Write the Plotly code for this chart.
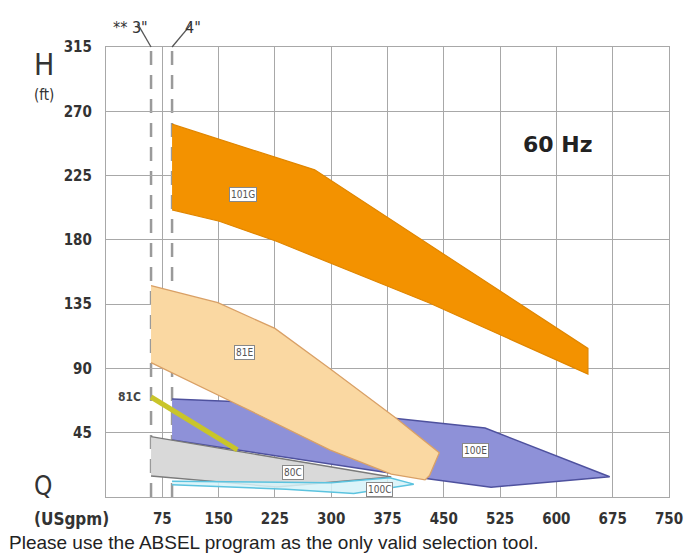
import plotly.graph_objects as go

# ---- data (Q in USgpm, H in ft) ----
q_101G = [88, 278, 642, 642, 430, 227, 151, 88]
h_101G = [261, 229, 104, 86, 136, 179, 193, 201]

q_81E = [60, 149, 225, 298, 387, 444, 431, 425, 380, 298, 182, 60]
h_81E = [148, 136, 118, 90, 55, 31, 15, 12, 16, 33, 63, 94]

q_100E = [88, 178, 505, 671, 513, 431, 88]
h_100E = [68.6, 66.7, 48.3, 14.2, 6.8, 12.6, 39.9]

q_80C = [60, 380, 227, 60]
h_80C = [42.2, 14, 7, 14.7]

q_100C = [88, 300, 378, 410, 330, 240, 88]
h_100C = [11, 10, 13.5, 9, 2.5, 5.5, 8.5]

q_81C = [60, 175]
h_81C = [70, 33]

x_ticks = [75, 150, 225, 300, 375, 450, 525, 600, 675, 750]
y_ticks = [45, 90, 135, 180, 225, 270, 315]

pipe_q = [60, 88]          # 3" and 4" limits
pipe_labels = ['** 3"', '4"']

labels = [("101G", 183, 212), ("81E", 185, 101), ("80C", 249, 17.5),
          ("100E", 492, 32.5), ("100C", 365, 5)]

TICKFONT = "DejaVu Sans Condensed, DejaVu Sans"

fig = go.Figure()

def poly(q, h, fill, line, width=1.2):
    fig.add_trace(go.Scatter(x=q, y=h, mode="lines", fill="toself",
                             fillcolor=fill, line=dict(color=line, width=width),
                             hoverinfo="skip", showlegend=False))

poly(q_101G, h_101G, "#F39200", "#E08600")
poly(q_100E, h_100E, "#8E91D8", "#4E519E", 1.5)
poly(q_81E, h_81E, "#FAD8A2", "#D9A066", 1.3)
poly(q_80C, h_80C, "#D9D9D9", "#7A7A7A", 1.3)
poly(q_100C, h_100C, "rgba(214,242,248,0.85)", "#5BC3DF", 1.5)
fig.add_trace(go.Scatter(x=q_81C, y=h_81C, mode="lines",
                         line=dict(color="#C9C52A", width=5),
                         hoverinfo="skip", showlegend=False))

shapes = []
for q in pipe_q:
    shapes.append(dict(type="line", xref="x", yref="paper", x0=q, x1=q, y0=0, y1=1,
                       line=dict(color="#9A9A9A", width=2.5, dash="14px,10px"),
                       layer="between"))
# connectors from the labels to the dashed lines
shapes.append(dict(type="line", xref="x", yref="paper", x0=42, x1=pipe_q[0],
                   y0=1.052, y1=1.0, line=dict(color="#555", width=1.3)))
shapes.append(dict(type="line", xref="x", yref="paper", x0=114, x1=pipe_q[1],
                   y0=1.052, y1=1.0, line=dict(color="#555", width=1.3)))

ann = []
for txt, q, h in labels:
    ann.append(dict(x=q, y=h, xref="x", yref="y", text=txt, showarrow=False,
                    font=dict(family=TICKFONT, size=10, color="#555"),
                    bgcolor="white", bordercolor="#888", borderwidth=1, borderpad=1))
ann.append(dict(x=31, y=70, xref="x", yref="y", text="<b>81C</b>", showarrow=False,
                font=dict(family=TICKFONT, size=12, color="#444")))
ann.append(dict(x=602, y=247, xref="x", yref="y", text="<b>60 Hz</b>", showarrow=False,
                font=dict(family="DejaVu Sans", size=22, color="#222")))
ann.append(dict(x=33, y=1.069, xref="x", yref="paper", text=pipe_labels[0], showarrow=False,
                font=dict(family=TICKFONT, size=16, color="#333")))
ann.append(dict(x=116, y=1.069, xref="x", yref="paper", text=pipe_labels[1], showarrow=False,
                font=dict(family=TICKFONT, size=16, color="#333")))
# axis titles
ann.append(dict(x=-0.131, y=0.962, xref="paper", yref="paper", xanchor="left", yanchor="middle",
                text="H", showarrow=False, font=dict(family=TICKFONT, size=30, color="#333")))
ann.append(dict(x=-0.131, y=0.893, xref="paper", yref="paper", xanchor="left", yanchor="middle",
                text="(ft)", showarrow=False, font=dict(family=TICKFONT, size=15, color="#333")))
ann.append(dict(x=-0.131, y=0.024, xref="paper", yref="paper", xanchor="left", yanchor="middle",
                text="Q", showarrow=False, font=dict(family=TICKFONT, size=26, color="#333")))
ann.append(dict(x=-0.131, y=-0.049, xref="paper", yref="paper", xanchor="left", yanchor="middle",
                text="<b>(USgpm)</b>", showarrow=False, font=dict(family=TICKFONT, size=17, color="#333")))
ann.append(dict(x=-0.175, y=-0.1, xref="paper", yref="paper", xanchor="left", yanchor="middle",
                text="Please use the ABSEL program as the only valid selection tool.",
                showarrow=False, font=dict(family="Liberation Sans, Arial", size=19, color="#222")))

fig.update_layout(
    width=700, height=555,
    margin=dict(l=106, r=31, t=47, b=58, autoexpand=False),
    paper_bgcolor="white", plot_bgcolor="white",
    shapes=shapes, annotations=ann,
    xaxis=dict(range=[0, 750], tickvals=x_ticks, ticktext=[str(v) for v in x_ticks],
               showgrid=True, gridcolor="#A8A8A8", gridwidth=1.2,
               showline=True, linecolor="#A8A8A8", linewidth=1.2, mirror=True,
               zeroline=False, ticks="", ticklabelstandoff=8,
               tickfont=dict(family=TICKFONT, size=15, color="#333", weight="bold")),
    yaxis=dict(range=[0, 315], tickvals=y_ticks, ticktext=[str(v) for v in y_ticks],
               showgrid=True, gridcolor="#A8A8A8", gridwidth=1.2,
               showline=True, linecolor="#A8A8A8", linewidth=1.2, mirror=True,
               zeroline=False, ticks="", ticklabelstandoff=10,
               tickfont=dict(family=TICKFONT, size=15, color="#333", weight="bold")),
)

fig.write_html("out.html", config={"displayModeBar": False},
               post_script="document.body.style.margin='0';")
